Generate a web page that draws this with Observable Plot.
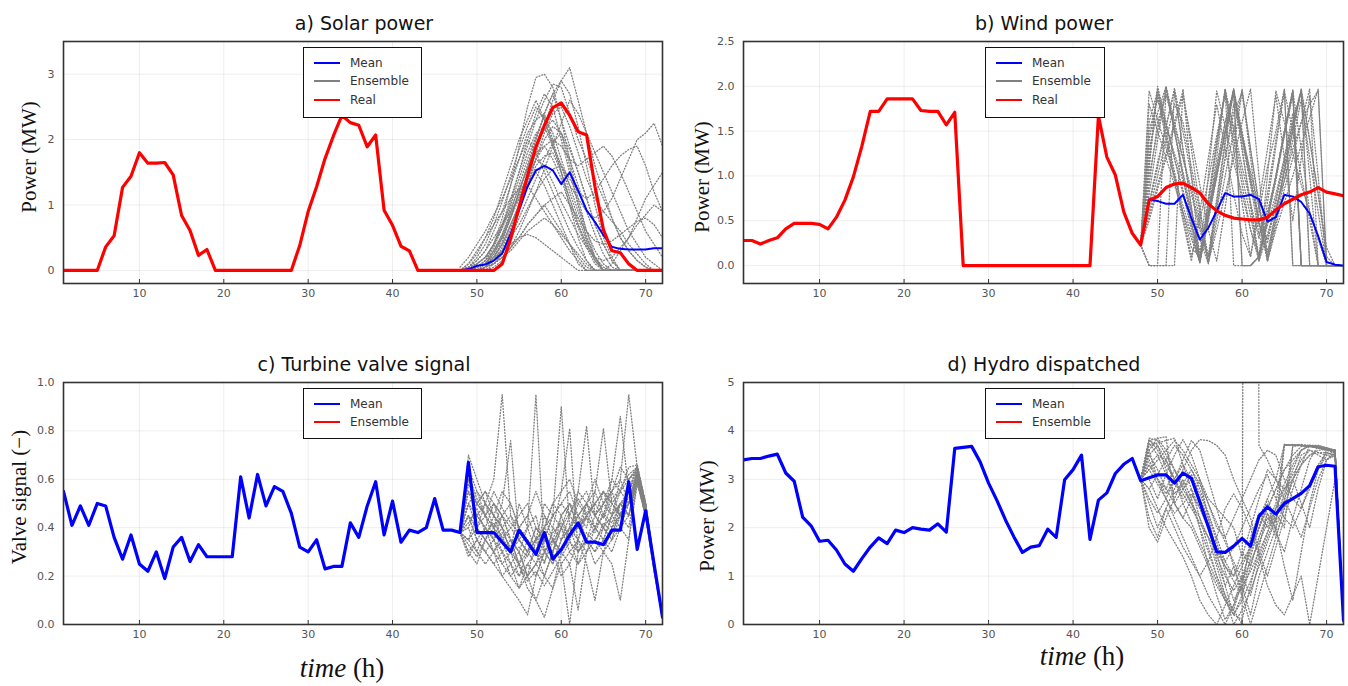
<!DOCTYPE html>
<html><head><meta charset="utf-8">
<script src="https://cdn.jsdelivr.net/npm/d3@7"></script>
<script src="https://cdn.jsdelivr.net/npm/@observablehq/plot@0.6"></script>
<style>
html,body{margin:0;padding:0;background:#fff;}
body{width:1348px;height:686px;position:relative;overflow:hidden;font-family:"DejaVu Sans",sans-serif;}
.title{position:absolute;font-size:19px;color:#111;transform:translate(-50%,-50%);white-space:nowrap;line-height:1;}
.ylab{position:absolute;font-family:"Liberation Serif",serif;font-size:21px;color:#111;transform:translate(-50%,-50%) rotate(-90deg);white-space:nowrap;line-height:1;}
.xlab{position:absolute;font-family:"Liberation Serif",serif;font-size:27px;color:#111;transform:translate(-50%,-50%);white-space:nowrap;line-height:1;}
.legend{position:absolute;border:1.5px solid #111;background:#fff;box-sizing:border-box;}
.row{position:absolute;left:0;height:14px;font-size:12px;color:#333;line-height:14px;}
.row .sw{position:absolute;left:10px;top:6px;width:26px;height:2px;}
.row .tx{position:absolute;left:46px;top:0;white-space:nowrap;}
</style>
</head><body>
<script>
// ---------- categories / ticks ----------
const hours = d3.range(1, 73);        // 1..72 h
const ensHours = d3.range(48, 73);    // ensemble horizon 48..72 h
const xTicks = [10, 20, 30, 40, 50, 60, 70];
const solarTicks = [0, 1, 2, 3];
const windTicks = [0, 0.5, 1.0, 1.5, 2.0, 2.5];
const valveTicks = [0, 0.2, 0.4, 0.6, 0.8, 1.0];
const hydroTicks = [0, 1, 2, 3, 4, 5];

// ---------- a) Solar ----------
const solarReal = [0,0,0,0,0,0.36,0.53,1.27,1.44,1.80,1.64,1.64,1.65,1.46,0.84,0.61,0.23,0.32,0,0,
  0,0,0,0,0,0,0,0,0.38,0.90,1.28,1.71,2.06,2.37,2.26,2.22,1.89,2.07,0.92,0.69,
  0.37,0.30,0,0,0,0,0,0,0,0,0,0,0.10,0.48,0.97,1.45,1.89,2.22,2.49,2.56,
  2.37,2.12,2.07,1.28,0.62,0.30,0.27,0.10,0,0,0,0];
const solarMean = [0,0.02,0.07,0.09,0.15,0.26,0.56,0.92,1.28,1.53,1.60,1.53,1.32,1.50,1.22,0.92,0.74,0.54,0.36,0.33,0.32,0.32,0.32,0.34,0.34];
const solarEnsemble = [
  [0,0,0.05,0.15,0.4,0.8,1.3,1.9,2.5,2.95,3.0,2.8,2.3,1.7,1.1,0.6,0.2,0,0,0,0,0,0,0,0],
  [0,0,0,0.05,0.2,0.45,0.8,1.2,1.6,2.0,2.4,2.7,2.9,3.1,2.6,2.1,1.6,1.2,0.8,0.5,0.3,0.15,0.05,0,0],
  [0,0.05,0.1,0.2,0.4,0.7,1.1,1.5,1.9,2.3,2.6,2.85,2.8,2.4,2.0,1.7,1.4,1.1,0.8,0.5,0.3,0.15,0.05,0,0],
  [0,0.1,0.25,0.5,0.8,1.2,1.6,2.0,2.3,2.6,2.3,1.9,1.5,1.1,0.7,0.4,0.15,0,0,0,0,0,0,0,0],
  [0,0,0.1,0.2,0.4,0.7,1.0,1.4,1.8,2.1,2.2,1.9,1.6,1.3,1.1,0.9,0.8,0.9,1.1,1.4,1.7,2.0,2.1,2.25,1.9],
  [0,0,0,0.1,0.3,0.5,0.8,1.1,1.4,1.7,1.9,2.0,1.9,1.7,1.6,1.7,1.8,1.9,1.75,1.5,1.2,0.9,0.6,0.4,0.2],
  [0,0,0,0.05,0.2,0.4,0.7,1.0,1.3,1.6,1.75,1.8,1.5,1.1,0.7,0.4,0.2,0.05,0,0,0,0,0,0,0],
  [0,0.05,0.15,0.3,0.6,0.9,1.3,1.7,2.1,2.3,2.4,2.0,1.5,1.0,0.5,0.15,0,0,0,0,0,0,0,0,0],
  [0,0,0.05,0.1,0.2,0.3,0.4,0.5,0.55,0.5,0.4,0.3,0.2,0.1,0,0,0,0,0,0,0,0,0,0,0],
  [0,0.05,0.15,0.3,0.5,0.7,0.9,1.1,1.3,1.5,1.3,1.0,0.7,0.4,0.1,0,0,0,0,0,0,0,0,0,0],
  [0,0,0.05,0.1,0.25,0.5,0.8,1.2,1.6,2.0,2.4,2.7,2.3,1.9,1.5,1.1,0.7,0.4,0.15,0,0,0,0,0,0],
  [0.05,0.2,0.4,0.6,0.85,1.1,1.4,1.7,2.0,1.8,1.5,1.2,0.9,0.6,0.35,0.15,0,0,0,0,0,0,0,0,0],
  [0,0,0,0.05,0.1,0.2,0.35,0.5,0.7,0.85,1.0,1.1,1.2,1.0,0.8,0.6,0.45,0.4,0.45,0.55,0.65,0.75,0.8,0.7,0.5],
  [0,0,0.05,0.1,0.2,0.4,0.7,1.0,1.35,1.7,2.0,2.2,2.1,1.6,1.0,0.5,0.2,0,0.1,0.3,0.5,0.8,1.1,1.3,1.5],
  [0,0,0,0.05,0.1,0.2,0.35,0.5,0.7,0.85,1.0,0.8,0.6,0.4,0.2,0.05,0,0,0,0,0,0,0,0,0],
  [0,0,0,0.05,0.15,0.3,0.6,0.9,1.3,1.7,2.1,2.4,2.5,2.2,1.8,1.4,1.1,0.9,0.75,0.6,0.4,0.25,0.1,0,0],
  [0,0,0.05,0.15,0.35,0.65,1.05,1.5,2.0,2.4,2.7,2.5,2.0,1.5,1.0,0.6,0.3,0.1,0,0,0,0,0,0,0],
  [0,0,0,0.1,0.25,0.5,0.85,1.2,1.55,1.9,2.15,2.3,2.1,1.7,1.3,0.9,0.55,0.25,0.05,0,0,0,0,0,0],
  [0,0.05,0.1,0.2,0.4,0.65,0.95,1.25,1.55,1.8,1.9,1.7,1.4,1.0,0.65,0.35,0.1,0,0,0,0,0,0,0,0],
  [0,0.05,0.2,0.4,0.7,1.05,1.45,1.85,2.2,2.5,2.3,1.95,1.6,1.2,0.8,0.45,0.15,0,0,0,0,0,0,0,0],
  [0,0,0,0.05,0.15,0.3,0.5,0.7,0.95,1.2,1.4,1.55,1.6,1.4,1.2,1.1,1.2,1.4,1.6,1.75,1.85,1.9,1.6,1.2,0.9],
  [0,0,0,0,0.1,0.25,0.5,0.8,1.1,1.4,1.7,1.95,2.1,1.85,1.5,1.1,0.7,0.4,0.15,0,0,0,0,0,0],
  [0,0.1,0.3,0.5,0.7,0.9,1.1,1.25,1.3,1.1,0.9,0.7,0.5,0.3,0.15,0,0,0,0,0,0,0,0,0,0],
  [0,0,0,0.05,0.15,0.35,0.65,1.0,1.4,1.8,2.2,2.6,2.9,2.7,2.2,1.6,1.0,0.5,0.2,0,0,0,0,0,0],
  [0,0,0.05,0.15,0.3,0.55,0.85,1.15,1.45,1.7,1.6,1.35,1.05,0.8,0.55,0.35,0.2,0.15,0.2,0.35,0.5,0.7,0.85,1.0,0.9],
  [0,0,0,0.05,0.1,0.2,0.3,0.45,0.6,0.7,0.8,0.7,0.55,0.4,0.25,0.1,0,0,0,0,0,0,0,0,0],
  [0,0,0,0,0.05,0.15,0.35,0.6,0.9,1.2,1.55,1.9,2.25,2.6,2.4,2.1,1.8,1.5,1.2,0.9,0.6,0.4,0.2,0.1,0],
  [0,0,0.05,0.1,0.3,0.55,0.9,1.3,1.7,2.05,2.35,2.1,1.7,1.3,0.9,0.5,0.2,0,0,0,0,0,0,0,0]
];

// ---------- b) Wind ----------
const windReal = [0.28,0.28,0.24,0.28,0.31,0.41,0.47,0.47,0.47,0.46,0.41,0.54,0.73,0.99,1.33,1.72,1.72,1.86,1.86,1.86,
  1.86,1.73,1.72,1.72,1.57,1.71,0,0,0,0,0,0,0,0,0,0,0,0,0,0,
  0,0,1.67,1.21,1.01,0.60,0.36,0.23,0.73,0.77,0.87,0.91,0.92,0.87,0.81,0.69,0.61,0.56,0.53,0.52,
  0.51,0.51,0.54,0.62,0.69,0.74,0.79,0.82,0.87,0.82,0.80,0.78];
const windMean = [null,0.74,0.72,0.69,0.69,0.79,0.53,0.29,0.42,0.61,0.81,0.77,0.77,0.79,0.74,0.49,0.54,0.79,0.77,0.71,0.58,0.33,0.04,0.01,0];
const windEnsemble = [
  [0.23,1.95,1.63,1.31,0.99,0.67,0.35,0.03,0.68,1.33,1.97,1.5,1.0,0.55,0.08,0.7,1.33,1.95,0,0,0,0,0,0,0],
  [0.23,1.1,1.97,1.58,1.19,0.8,0.41,0.03,0.51,0.99,1.47,1.97,1.3,0.7,0.08,0.55,1.0,1.5,1.96,0,0,0,0,0,0],
  [0.23,0.8,1.4,1.98,1.5,1.0,0.5,0.05,0.7,1.35,1.97,0,0,0,0.1,0.45,0.8,1.2,1.6,1.97,0,0,0,0,0],
  [0.23,0.67,1.1,1.55,1.98,1.5,1.0,0.5,0.03,0.5,1.0,1.5,1.97,1.3,0.65,0.05,0.45,0.85,1.2,1.6,1.97,0,0,0,0],
  [0.23,0.55,0.9,1.25,1.6,1.95,1.3,0.65,0.03,0.4,0.8,1.2,1.6,1.97,1.0,0.05,0.4,0.7,1.0,1.35,1.65,1.97,0,0,0],
  [0.23,0,0,0,0,1.97,1.0,0.05,0.6,1.2,1.97,1.3,0.7,0.1,0.6,1.1,1.5,1.97,0,0,0,0,0,0,0],
  [0.23,0,0,1.97,1.5,1.0,0.5,0.05,0.5,1.0,1.5,1.97,1.3,0.65,0.05,0.35,0.65,0.95,1.3,1.6,1.8,1.95,0,0,0],
  [0.23,1.1,2.0,1.6,1.2,0.85,0.45,0.1,1.0,1.95,1.55,1.15,0.8,0.4,0.1,1.0,1.95,1.6,1.25,0.9,0.6,0.3,0,0,0],
  [0.23,0.7,1.15,1.55,1.95,1.3,0.65,0.03,0.55,1.05,1.5,1.95,0,0,0.1,0.5,0.95,1.45,1.95,0,0,0,0,0,0],
  [0.23,1.0,1.5,2.0,1.6,1.2,0.8,0.4,0.05,0.7,1.35,1.97,1.5,1.0,0.5,0.05,0.55,1.05,1.5,1.97,1.4,0.8,0.1,0,0],
  [0.23,1.4,1.9,1.4,0.95,0.5,0.05,0.6,1.2,1.8,1.3,0.8,0.35,0.1,0.7,1.3,1.9,1.2,0.5,1.2,1.9,1.0,0,0,0],
  [0.23,1.5,1.85,1.55,1.25,0.95,0.6,0.3,0.02,0.6,1.2,1.8,1.45,1.05,0.65,0.25,0.7,1.2,1.7,0,0,0,0,0,0],
  [0.23,0.9,1.6,1.9,1.55,1.2,0.85,0.45,0.1,0.75,1.4,1.95,1.45,0.95,0.45,0.1,0.5,0.95,1.4,1.85,1.2,0.6,0,0,0],
  [0.23,1.3,1.7,2.0,1.5,1.05,0.6,0.15,0.55,1.0,1.5,1.92,1.4,0.9,0.35,0.6,1.0,1.45,1.9,0,0,0,0,0,0],
  [0.23,0.6,1.0,1.4,1.8,1.6,1.1,0.6,0.1,0.65,1.2,1.7,1.93,1.3,0.7,0.15,0.6,1.05,1.5,1.95,0,0,0,0,0],
  [0.23,1.8,1.5,1.2,0.9,0.6,0.3,0.05,0.75,1.4,1.95,1.55,1.1,0.7,0.3,0.8,1.4,1.95,1.5,1.0,0.5,0,0,0,0],
  [0.23,0,0,0,1.95,1.3,0.65,0.05,0.55,1.1,1.6,1.95,0,0,0.1,0.55,1.0,1.5,1.95,0,0,0,0,0,0],
  [0.23,1.2,1.95,1.45,1.0,0.55,0.1,0.5,0.95,1.45,1.9,1.4,0.9,0.4,0.05,0.5,1.0,1.5,1.95,1.3,0.6,0,0,0,0],
  [0.23,0.5,0.85,1.2,1.55,1.9,1.4,0.9,0.4,0.05,0.65,1.3,1.95,1.2,0.45,0.3,0.75,1.15,1.55,1.95,1.0,0,0,0,0],
  [0.23,1.6,1.95,1.5,1.05,0.6,0.2,0.1,0.6,1.1,1.6,1.95,1.45,0.95,0.5,0.1,0.6,1.1,1.6,1.95,1.4,0.8,0.2,0,0]
];

// ---------- c) Turbine valve ----------
const valveMean = [0.55,0.41,0.49,0.41,0.50,0.49,0.36,0.27,0.37,0.25,0.22,0.30,0.19,0.32,0.36,0.26,0.33,0.28,0.28,0.28,
  0.28,0.61,0.44,0.62,0.49,0.57,0.55,0.46,0.32,0.30,0.35,0.23,0.24,0.24,0.42,0.36,0.49,0.59,0.37,0.51,
  0.34,0.39,0.38,0.40,0.52,0.39,0.39,0.38,0.67,0.38,0.38,0.38,0.34,0.30,0.39,0.34,0.29,0.38,0.27,0.31,
  0.37,0.42,0.34,0.34,0.33,0.39,0.39,0.59,0.31,0.47,0.25,0.03];
const valveEnsemble = [
  [0.38,0.55,0.45,0.5,0.6,0.95,0.45,0.35,0.3,0.4,0.35,0.3,0.45,0.5,0.4,0.45,0.5,0.55,0.5,0.55,0.6,0.64,0.48,0.25,0.03],
  [0.38,0.45,0.4,0.35,0.45,0.4,0.3,0.5,0.4,0.95,0.3,0.25,0.35,0.4,0.5,0.45,0.4,0.35,0.45,0.5,0.55,0.62,0.45,0.25,0.03],
  [0.38,0.6,0.5,0.45,0.4,0.3,0.25,0.2,0.3,0.35,0.5,0.45,0.9,0.4,0.35,0.5,0.45,0.4,0.5,0.45,0.6,0.65,0.5,0.25,0.03],
  [0.38,0.35,0.3,0.4,0.35,0.45,0.35,0.3,0.2,0.35,0.25,0.4,0.55,0.81,0.3,0.35,0.4,0.5,0.45,0.55,0.5,0.6,0.45,0.22,0.03],
  [0.38,0.5,0.55,0.45,0.4,0.5,0.76,0.35,0.4,0.3,0.45,0.35,0.3,0.4,0.45,0.35,0.45,0.4,0.35,0.5,0.45,0.63,0.5,0.26,0.03],
  [0.38,0.3,0.35,0.3,0.25,0.3,0.2,0.25,0.35,0.3,0.4,0.5,0.45,0.35,0.55,0.82,0.45,0.5,0.55,0.45,0.5,0.62,0.47,0.24,0.03],
  [0.38,0.45,0.4,0.5,0.45,0.35,0.4,0.45,0.5,0.4,0.35,0.45,0.4,0.5,0.45,0.4,0.55,0.81,0.5,0.45,0.55,0.66,0.5,0.25,0.03],
  [0.38,0.5,0.45,0.4,0.35,0.3,0.35,0.25,0.3,0.35,0.4,0.45,0.5,0.45,0.55,0.5,0.4,0.45,0.6,0.86,0.55,0.64,0.48,0.25,0.03],
  [0.38,0.4,0.5,0.55,0.45,0.4,0.35,0.3,0.4,0.45,0.3,0.35,0.45,0.5,0.4,0.45,0.5,0.55,0.45,0.6,0.95,0.65,0.5,0.26,0.03],
  [0.38,0.28,0.35,0.3,0.25,0.2,0.15,0.1,0.04,0.2,0.3,0.25,0.35,0.4,0.3,0.35,0.3,0.4,0.45,0.5,0.45,0.6,0.45,0.23,0.03],
  [0.38,0.4,0.3,0.25,0.3,0.2,0.25,0.15,0.2,0.1,0.03,0.15,0.3,0.25,0.35,0.3,0.4,0.35,0.45,0.4,0.5,0.62,0.46,0.24,0.03],
  [0.38,0.35,0.4,0.35,0.3,0.25,0.3,0.2,0.25,0.3,0.2,0.15,0.25,0.0,0.3,0.35,0.25,0.3,0.4,0.45,0.5,0.6,0.45,0.23,0.03],
  [0.38,0.45,0.35,0.4,0.3,0.35,0.25,0.3,0.2,0.25,0.3,0.35,0.25,0.3,0.35,0.25,0.1,0.3,0.35,0.4,0.45,0.6,0.44,0.22,0.03],
  [0.38,0.55,0.5,0.45,0.5,0.4,0.45,0.4,0.35,0.3,0.4,0.35,0.3,0.35,0.25,0.3,0.35,0.3,0.25,0.1,0.35,0.58,0.45,0.22,0.03],
  [0.38,0.3,0.25,0.35,0.4,0.45,0.5,0.4,0.45,0.55,0.45,0.4,0.35,0.45,0.4,0.5,0.45,0.55,0.5,0.45,0.55,0.65,0.5,0.26,0.03],
  [0.38,0.65,0.55,0.5,0.4,0.35,0.3,0.25,0.2,0.25,0.2,0.3,0.2,0.25,0.06,0.3,0.35,0.4,0.35,0.45,0.4,0.6,0.46,0.24,0.03],
  [0.38,0.7,0.6,0.5,0.45,0.55,0.5,0.4,0.45,0.35,0.4,0.5,0.55,0.6,0.5,0.55,0.45,0.5,0.6,0.55,0.65,0.66,0.5,0.26,0.03],
  [0.38,0.45,0.35,0.3,0.35,0.25,0.2,0.15,0.25,0.2,0.3,0.35,0.3,0.4,0.35,0.45,0.4,0.45,0.4,0.5,0.45,0.61,0.46,0.24,0.03],
  [0.38,0.58,0.5,0.55,0.5,0.45,0.4,0.35,0.3,0.4,0.35,0.45,0.5,0.55,0.45,0.5,0.55,0.45,0.55,0.6,0.5,0.64,0.49,0.25,0.03],
  [0.38,0.35,0.45,0.4,0.5,0.45,0.35,0.25,0.15,0.1,0.2,0.3,0.4,0.3,0.25,0.35,0.3,0.35,0.3,0.4,0.35,0.59,0.45,0.23,0.03],
  [0.38,0.5,0.4,0.45,0.35,0.4,0.3,0.35,0.3,0.25,0.35,0.3,0.4,0.35,0.45,0.5,0.6,0.5,0.55,0.65,0.6,0.63,0.48,0.25,0.03],
  [0.38,0.42,0.48,0.38,0.42,0.36,0.3,0.32,0.28,0.36,0.3,0.38,0.42,0.36,0.4,0.44,0.38,0.46,0.42,0.5,0.52,0.62,0.47,0.24,0.03],
  [0.38,0.62,0.52,0.45,0.55,0.48,0.42,0.38,0.34,0.3,0.26,0.34,0.4,0.46,0.52,0.46,0.5,0.44,0.52,0.56,0.62,0.65,0.49,0.25,0.03],
  [0.38,0.33,0.28,0.35,0.3,0.38,0.32,0.24,0.18,0.22,0.16,0.22,0.28,0.34,0.3,0.38,0.34,0.42,0.38,0.46,0.5,0.6,0.46,0.24,0.03]
];

// ---------- d) Hydro dispatched ----------
const hydroMean = [3.40,3.43,3.43,3.48,3.52,3.13,2.96,2.22,2.04,1.72,1.74,1.54,1.25,1.10,1.36,1.60,1.79,1.67,1.95,1.90,
  2.00,1.97,1.95,2.08,1.91,3.64,3.66,3.68,3.36,2.92,2.56,2.16,1.81,1.49,1.60,1.63,1.97,1.80,2.99,3.20,
  3.50,1.76,2.57,2.72,3.12,3.31,3.43,2.97,3.03,3.09,3.09,2.92,3.13,3.02,2.53,2.02,1.50,1.49,1.62,1.78,
  1.62,2.24,2.43,2.28,2.50,2.60,2.71,2.87,3.26,3.29,3.27,0.09];
const hydroEnsemble = [
  [3.0,3.8,3.85,3.88,2.5,2.2,2.0,1.6,1.2,0.8,0.5,0.3,0.9,1.6,2.2,2.6,2.1,3.72,3.7,3.7,3.68,3.65,3.62,3.6,0.05],
  [3.0,3.7,3.75,3.8,3.85,3.3,2.8,2.4,2.0,1.6,1.2,0.9,0.6,1.2,1.8,2.3,2.0,2.5,3.7,3.72,3.7,3.68,3.65,3.6,0.05],
  [3.0,3.3,3.5,3.4,3.0,2.6,2.8,2.2,1.6,1.0,0.6,0.3,0.0,60,3.7,3.4,3.0,2.8,3.0,3.3,3.5,3.6,3.62,3.6,0.05],
  [3.0,3.85,3.8,3.5,3.2,2.8,3.0,2.6,2.2,1.5,0.8,0.2,0.6,1.4,2.0,2.6,3.0,3.72,3.7,3.7,3.68,3.66,3.64,3.6,0.05],
  [3.0,2.2,1.8,2.4,2.0,1.6,1.3,1.0,0.6,0.3,0.0,0.4,1.0,0.6,1.3,1.8,2.2,2.6,3.0,3.3,3.5,3.55,3.55,3.5,0.05],
  [3.0,2.5,2.0,2.4,2.8,3.2,3.6,3.82,3.8,3.7,3.5,3.0,2.6,2.2,1.5,1.0,1.6,2.2,2.8,3.3,3.7,3.65,3.6,3.55,0.05],
  [3.0,3.5,3.2,2.8,2.5,2.2,2.6,3.0,2.2,1.4,1.0,0.7,1.0,1.5,2.0,2.5,1.9,1.5,2.2,2.8,3.4,3.7,3.65,3.6,0.05],
  [3.0,2.8,2.4,2.0,1.7,1.4,1.0,0.5,0.2,0.0,0.4,0.8,1.2,1.6,2.0,2.4,2.8,3.2,3.4,3.6,3.7,3.7,3.65,3.6,0.05],
  [3.0,3.6,3.0,2.8,3.2,2.9,2.5,2.0,1.5,1.0,0.5,0.2,0.1,0.8,1.6,2.3,1.8,2.4,3.0,2.5,2.0,2.8,3.4,3.58,0.05],
  [3.0,3.0,2.6,3.1,3.5,3.82,3.5,3.0,2.6,2.4,2.2,2.0,1.4,2.0,2.6,3.2,3.0,2.6,2.2,1.8,2.4,3.0,3.4,3.55,0.05],
  [3.0,3.4,3.0,2.6,2.2,1.8,1.4,1.0,1.3,1.8,2.4,2.7,2.4,2.0,1.4,0.8,0.4,0.2,0.6,1.0,0.0,1.0,2.0,3.0,0.05],
  [3.0,3.2,3.4,3.6,3.8,3.6,3.3,3.0,2.5,2.0,1.8,2.2,2.6,3.0,3.4,3.6,3.5,3.0,2.6,2.4,2.8,3.2,3.5,3.6,0.05],
  [3.0,2.0,1.7,2.2,2.6,3.0,2.6,2.0,1.2,0.6,0.1,0.4,0.8,0.2,1.0,1.5,2.0,1.2,0.5,1.5,2.5,3.2,3.6,3.6,0.05],
  [3.0,3.8,3.7,3.2,2.5,2.8,3.1,2.7,2.3,1.8,1.3,1.0,1.5,1.2,1.8,2.2,2.0,3.7,3.72,3.7,3.68,3.65,3.62,3.6,0.05],
  [3.0,3.3,3.0,2.7,3.0,3.3,3.0,2.6,2.0,1.3,0.8,1.2,0.7,1.8,2.3,2.0,2.4,2.8,3.1,3.4,3.6,3.5,3.4,3.5,0.05],
  [3.0,2.6,2.3,2.6,3.0,3.4,3.8,3.6,3.0,2.4,1.8,1.2,0.6,0.0,0.6,1.2,1.8,2.4,3.0,3.5,3.6,3.55,3.5,3.45,0.05],
  [3.0,3.82,3.6,3.3,3.0,2.7,2.4,2.1,1.8,1.5,1.2,1.0,1.3,1.6,2.0,2.4,2.8,3.2,3.5,3.68,3.7,3.65,3.6,3.58,0.05],
  [3.0,3.5,3.7,3.4,3.0,2.5,2.1,1.7,1.3,0.9,0.5,0.2,0.5,0.9,1.4,1.9,2.4,2.9,3.3,3.6,3.7,3.68,3.62,3.6,0.05],
  [3.0,2.8,3.1,3.4,3.7,3.5,3.2,2.9,2.5,2.1,1.7,1.3,0.9,1.3,1.7,2.1,2.5,3.7,3.72,3.7,3.68,3.65,3.62,3.58,0.05],
  [3.0,3.6,3.85,3.6,3.2,2.8,2.5,2.2,1.8,1.2,0.6,0.0,0.3,0.7,1.2,1.7,2.2,2.7,3.2,3.6,3.7,3.66,3.62,3.6,0.05],
  [3.0,3.2,2.9,2.6,2.3,2.5,2.7,2.4,2.0,1.6,1.3,1.6,2.0,2.4,2.8,3.1,2.6,2.2,2.0,2.4,2.9,3.3,3.55,3.5,0.05],
  [3.0,3.75,3.5,3.1,2.7,2.9,3.2,2.8,2.3,1.7,1.1,0.5,0.8,1.1,1.5,1.9,2.3,2.0,3.68,3.7,3.68,3.65,3.6,3.58,0.05]
];

// ---------- legends ----------
const legendLabels3 = ["Mean", "Ensemble", "Real"];
const legendColors3 = ["#0000ff", "#808080", "#ff0000"];
const legendLabels2 = ["Mean", "Ensemble"];
const legendColors2 = ["#0000ff", "#ff0000"];

// ---------- helpers ----------
const series = (hs, vals) => vals.map((v, i) => ({h: hs[i], v})).filter(d => d.v != null);
const ens = (members) => members.flatMap((vals, m) => vals.map((v, i) => ({h: ensHours[i], v, m})));

const ENS = {stroke: "#808080", strokeWidth: 1.3, strokeDasharray: "1,2", clip: true};

function addPlot(cfg) {
  const svg = Plot.plot({
    width: cfg.width, height: cfg.height,
    marginLeft: cfg.mL, marginRight: cfg.mR, marginTop: cfg.mT, marginBottom: cfg.mB,
    style: {fontFamily: '"DejaVu Sans", sans-serif', fontSize: "11px", color: "#555", background: "transparent", overflow: "visible"},
    x: {domain: [1, 72], label: null},
    y: {domain: cfg.yDomain, label: null},
    marks: [
      Plot.gridX(xTicks, {stroke: "#000", strokeOpacity: 0.07}),
      Plot.gridY(cfg.yTicks, {stroke: "#000", strokeOpacity: 0.07}),
      ...cfg.marks,
      Plot.axisX(xTicks, {tickSize: -4, tickPadding: 10, stroke: "#333"}),
      Plot.axisY(cfg.yTicks, {tickSize: 0, tickPadding: 9, tickFormat: cfg.yFormat}),
      Plot.frame({stroke: "#333", strokeWidth: 1.6})
    ]
  });
  svg.style.position = "absolute";
  svg.style.left = cfg.left + "px";
  svg.style.top = cfg.top + "px";
  document.body.appendChild(svg);
}

function addText(cls, html, x, y) {
  const d = document.createElement("div");
  d.className = cls; d.innerHTML = html;
  d.style.left = x + "px"; d.style.top = y + "px";
  document.body.appendChild(d);
}

function addLegend(x, y, w, h, labels, colors) {
  const box = document.createElement("div");
  box.className = "legend";
  Object.assign(box.style, {left: x + "px", top: y + "px", width: w + "px", height: h + "px"});
  labels.forEach((lab, i) => {
    const r = document.createElement("div");
    r.className = "row";
    r.style.top = Math.round(8 + i * 18.3) + "px";
    r.innerHTML = `<span class="sw" style="background:${colors[i]}"></span><span class="tx">${lab}</span>`;
    box.appendChild(r);
  });
  document.body.appendChild(box);
}

// a) Solar power
addPlot({left: 0, top: 30, width: 674, height: 270, mL: 63, mR: 12, mT: 11, mB: 17,
  yDomain: [-0.2, 3.5], yTicks: solarTicks, yFormat: d3.format("d"),
  marks: [
    Plot.line(ens(solarEnsemble), {x: "h", y: "v", z: "m", ...ENS}),
    Plot.line(series(ensHours, solarMean), {x: "h", y: "v", stroke: "#0000ff", strokeWidth: 2, strokeDasharray: "2.5,1", clip: true}),
    Plot.line(series(hours, solarReal), {x: "h", y: "v", stroke: "#ff0000", strokeWidth: 3.2, clip: true})
  ]});
// b) Wind power
addPlot({left: 674, top: 30, width: 674, height: 270, mL: 69, mR: 5, mT: 11, mB: 17,
  yDomain: [-0.2, 2.5], yTicks: windTicks, yFormat: d3.format(".1f"),
  marks: [
    Plot.line(ens(windEnsemble), {x: "h", y: "v", z: "m", ...ENS}),
    Plot.line(series(ensHours, windMean), {x: "h", y: "v", stroke: "#0000ff", strokeWidth: 2, strokeDasharray: "2.5,1", clip: true}),
    Plot.line(series(hours, windReal), {x: "h", y: "v", stroke: "#ff0000", strokeWidth: 3.2, clip: true})
  ]});
// c) Turbine valve signal
addPlot({left: 0, top: 370, width: 674, height: 276, mL: 63, mR: 12, mT: 12, mB: 22,
  yDomain: [0, 1], yTicks: valveTicks, yFormat: d3.format(".1f"),
  marks: [
    Plot.line(ens(valveEnsemble), {x: "h", y: "v", z: "m", ...ENS}),
    Plot.line(series(hours, valveMean), {x: "h", y: "v", stroke: "#0000ff", strokeWidth: 3.2, clip: true})
  ]});
// d) Hydro dispatched
addPlot({left: 674, top: 370, width: 674, height: 276, mL: 69, mR: 5, mT: 12, mB: 22,
  yDomain: [0, 5], yTicks: hydroTicks, yFormat: d3.format("d"),
  marks: [
    Plot.line(ens(hydroEnsemble), {x: "h", y: "v", z: "m", ...ENS}),
    Plot.line(series(hours, hydroMean), {x: "h", y: "v", stroke: "#0000ff", strokeWidth: 3.2, clip: true})
  ]});

// titles
addText("title", "a) Solar power", 364, 23);
addText("title", "b) Wind power", 1044, 23);
addText("title", "c) Turbine valve signal", 364, 364);
addText("title", "d) Hydro dispatched", 1044, 364);
// y labels
addText("ylab", "Power (MW)", 29, 157);
addText("ylab", "Power (MW)", 702, 177);
addText("ylab", "Valve signal (\u2212)", 19, 497);
addText("ylab", "Power (MW)", 707, 516);
// x labels
addText("xlab", "<i>time</i> (h)", 342, 668);
addText("xlab", "<i>time</i> (h)", 1082, 656);
// legends
addLegend(303, 47, 119, 71, legendLabels3, legendColors3);
addLegend(985, 47, 120, 71, legendLabels3, legendColors3);
addLegend(303, 388, 119, 51, legendLabels2, legendColors2);
addLegend(985, 388, 120, 51, legendLabels2, legendColors2);
</script>
</body></html>
